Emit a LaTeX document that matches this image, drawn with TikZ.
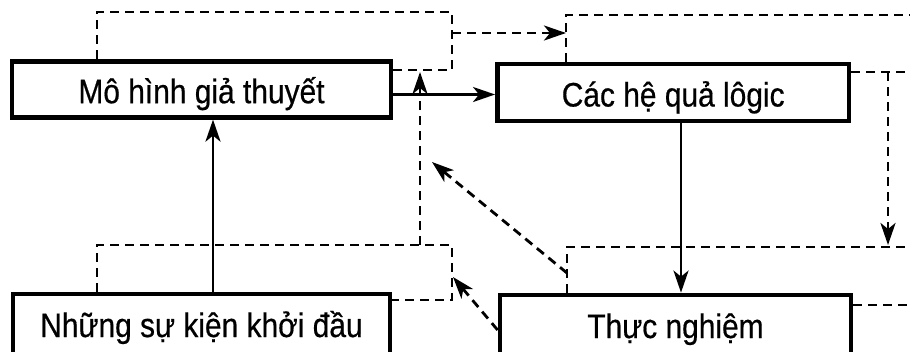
\documentclass[tikz,border=0pt]{standalone}
\usepackage{fontspec}
\setmainfont{Liberation Sans}[FakeStretch=0.88,FakeBold=0.5]
\usetikzlibrary{arrows.meta}
\begin{document}
\begin{tikzpicture}[x=1pt,y=-1pt,
  box/.style={draw, line width=4.8pt, rectangle, inner sep=0pt,
    font=\fontsize{34}{40}\selectfont, text height=34pt, text depth=6pt},
  tip/.style={-{Stealth[length=22pt,width=15pt,inset=6pt]}},
  link/.style={line width=2.8pt, tip},
  dline/.style={line width=2.8pt, dash pattern=on 9pt off 6pt},
  darrow/.style={dline, tip}
]
\useasboundingbox (0,0) rectangle (910,351);

% boxes
\node[box, minimum width=379pt, minimum height=56pt] (hyp) at (201.5,89.2) {Mô hình giả thuyết};
\node[box, minimum width=351.5pt, minimum height=57pt] (cons) at (673.2,92.5) {Các hệ quả lôgic};
\node[box, minimum width=377pt, minimum height=62pt, text height=30pt] (facts) at (201.5,325) {Những sự kiện khởi đầu};
\node[box, minimum width=351pt, minimum height=62pt, text height=30pt] (exp) at (675.5,326) {Thực nghiệm};

% helper coordinates
\coordinate (vx1) at (213,0);
\coordinate (hy1) at (0,94.5);
\coordinate (vx2) at (681,0);

% solid connectors
\draw[link] (facts.north -| vx1) -- (hyp.south -| vx1);
\draw[link] (hyp.east |- hy1) -- (cons.west |- hy1);
\draw[link] (cons.south -| vx2) -- (exp.north -| vx2);

% loop around hypothesis
\coordinate (l1a) at (97,12);
\coordinate (l1b) at (452,12);
\coordinate (l1c) at (452,70);
\coordinate (l1d) at (452,33);
\draw[dline] (hyp.north -| l1a) -- (l1a) -- (l1b) -- (l1c) -- (hyp.east |- l1c);

% loop around consequences
\coordinate (l2a) at (566,15);
\coordinate (l2b) at (912,15);
\coordinate (l2c) at (912,72);
\coordinate (l2v) at (888,72);
\draw[dline] (cons.north -| l2a) -- (l2a) -- (l2b);
\draw[dline] (cons.east |- l2c) -- (l2c);
\draw[darrow] (l1d) -- (l1d -| l2a);

% loop around experiment
\coordinate (l4a) at (567,247);
\coordinate (l4b) at (912,247);
\coordinate (l4c) at (912,305);
\draw[dline] (exp.north -| l4a) -- (l4a) -- (l4b);
\draw[dline] (exp.east |- l4c) -- (l4c);
\draw[darrow, shorten >=2pt] (l2v) -- (l2v |- l4a);

% loop around initial facts
\coordinate (l3a) at (97,245);
\coordinate (l3b) at (452,245);
\coordinate (l3c) at (452,300);
\coordinate (l3v) at (420,245);
\draw[dline] (facts.north -| l3a) -- (l3a) -- (l3b) -- (l3c) -- (facts.east |- l3c);
\draw[darrow, shorten >=2pt] (l3v) -- (l3v |- l1c);

% diagonals
\coordinate (d1s) at (567,273);
\coordinate (d1e) at (432,162);
\draw[darrow] (d1s) -- (d1e);
\coordinate (d2y) at (0,330);
\coordinate (d2e) at (453,277);
\draw[darrow] (exp.west |- d2y) -- (d2e);
\end{tikzpicture}
\end{document}
